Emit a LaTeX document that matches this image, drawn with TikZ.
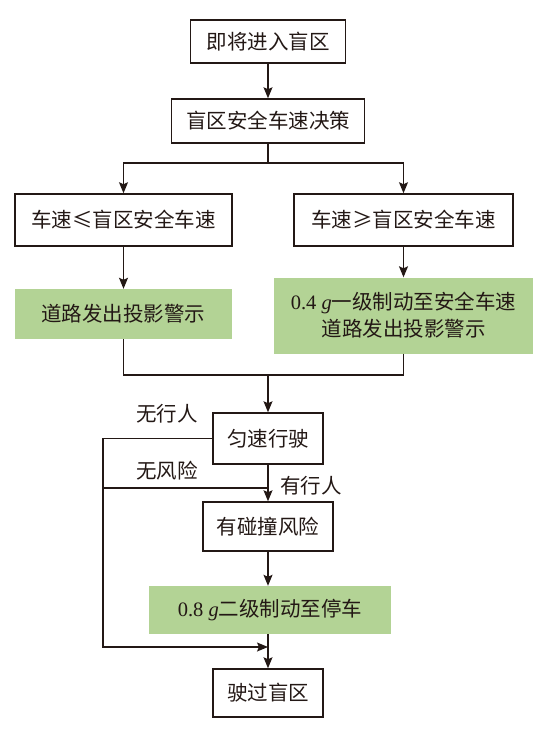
\documentclass[tikz,border=0pt]{standalone}
\usepackage{fontspec}
\setmainfont{Liberation Serif}
\newfontfamily\cjk{Noto Sans CJK SC}
\usetikzlibrary{arrows.meta}
\definecolor{boxgreen}{RGB}{179,211,149}
\definecolor{linedark}{RGB}{35,24,21}
\begin{document}
\begin{tikzpicture}[x=1pt,y=-1pt,
  every node/.style={font=\cjk\fontsize{20.5}{27}\selectfont, inner sep=0pt, text=linedark},
  whitebox/.style={draw=linedark, line width=1.5pt, fill=white},
  greenbox/.style={fill=boxgreen},
  conn/.style={draw=linedark, line width=1.2pt, -{Stealth[length=11pt,width=9pt,inset=2pt]}},
  plain/.style={draw=linedark, line width=1.2pt},
  lbl/.style={}]
\useasboundingbox (0,0) rectangle (552,732);

\node[whitebox, minimum width=155pt, minimum height=43pt] (n1) at (268,41.5) {即将进入盲区};
\node[whitebox, minimum width=193pt, minimum height=44pt] (n2) at (268,121) {盲区安全车速决策};
\node[whitebox, minimum width=217pt, minimum height=52pt] (n3L) at (123.5,220) {车速≤盲区安全车速};
\node[whitebox, minimum width=219pt, minimum height=52pt] (n3R) at (403.5,220) {车速≥盲区安全车速};
\node[greenbox, minimum width=217pt, minimum height=50pt] (n4L) at (123.5,314) {道路发出投影警示};
\node[greenbox, minimum width=259pt, minimum height=76pt, align=center] (n4R) at (403.5,315.5) {{\rmfamily 0.4 \itshape g}一级制动至安全车速\\道路发出投影警示};
\node[whitebox, minimum width=110pt, minimum height=51pt] (n5) at (268,438.5) {匀速行驶};
\node[whitebox, minimum width=130pt, minimum height=49pt] (n6) at (268,526.5) {有碰撞风险};
\node[greenbox, minimum width=242pt, minimum height=48pt] (n7) at (270,610) {{\rmfamily 0.8 \itshape g}二级制动至停车};
\node[whitebox, minimum width=110pt, minimum height=48pt] (n8) at (268,693) {驶过盲区};

\node[lbl] (l1) at (167,414) {无行人};
\node[lbl] (l2) at (167,471) {无风险};
\node[lbl] (l3) at (311,486) {有行人};

\coordinate (s) at (268,163);
\coordinate (m) at (268,375);
\coordinate (lb) at (103,647);
\coordinate (jb) at (268,647);
\coordinate (r) at (268,488);
\coordinate (rl) at (103,488);

\draw[conn] (n1) -- (n2);
\draw[plain] (n2.south) -- (s);
\draw[conn] (s) -| (n3L.north);
\draw[conn] (s) -| (n3R.north);
\draw[conn] (n3L) -- (n4L);
\draw[conn] (n3R) -- (n4R);
\draw[plain] (n4L.south) |- (m);
\draw[plain] (n4R.south) |- (m);
\draw[conn] (m) -- (n5.north);
\draw[conn] (n5) -- (n6);
\draw[conn] (n6.south) -- (n6.south |- n7.north);
\draw[conn] (n8.north |- n7.south) -- (n8.north);
\draw[conn] (n5.west) -| (lb) -- (jb);
\draw[plain] (r) -- (rl);
\end{tikzpicture}
\end{document}
